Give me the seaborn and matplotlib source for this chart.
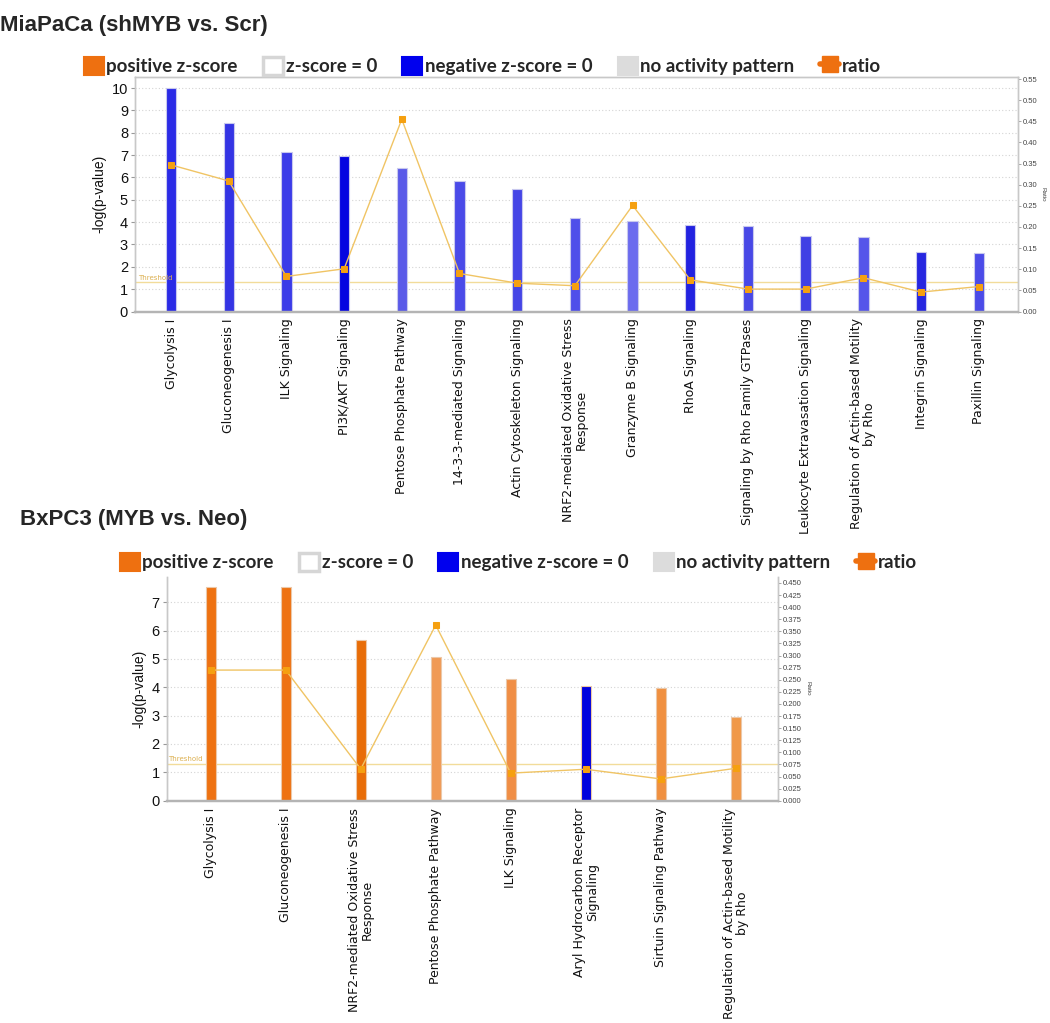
import numpy as np
import pandas as pd
import matplotlib
matplotlib.use("Agg")
import matplotlib.pyplot as plt
import seaborn as sns
from matplotlib.patches import Patch
from matplotlib.lines import Line2D
from matplotlib import font_manager
import matplotlib.transforms as mtransforms

# ---------------- data ----------------
mia_pathways = [
    "Glycolysis I", "Gluconeogenesis I", "ILK Signaling", "PI3K/AKT Signaling",
    "Pentose Phosphate Pathway", "14-3-3-mediated Signaling",
    "Actin Cytoskeleton Signaling", "NRF2-mediated Oxidative Stress\nResponse",
    "Granzyme B Signaling", "RhoA Signaling", "Signaling by Rho Family GTPases",
    "Leukocyte Extravasation Signaling",
    "Regulation of Actin-based Motility\nby Rho", "Integrin Signaling",
    "Paxillin Signaling",
]
mia_logp = [10.0, 8.46, 7.15, 6.97, 6.44, 5.84, 5.47, 4.18, 4.05, 3.89, 3.83,
            3.36, 3.33, 2.66, 2.6]
mia_ratio = [0.347, 0.309, 0.083, 0.101, 0.455, 0.090, 0.067, 0.061, 0.251,
             0.075, 0.053, 0.053, 0.080, 0.046, 0.059]
mia_colors = ["#2b2be6", "#3434e4", "#3b3be8", "#0505e0", "#5a5ae8", "#4a4ae8",
              "#4545e6", "#4f4fea", "#6b6bee", "#2222e0", "#4848e6", "#4040e4",
              "#5555ea", "#2626e0", "#4b4be8"]

bx_pathways = [
    "Glycolysis I", "Gluconeogenesis I",
    "NRF2-mediated Oxidative Stress\nResponse", "Pentose Phosphate Pathway",
    "ILK Signaling", "Aryl Hydrocarbon Receptor\nSignaling",
    "Sirtuin Signaling Pathway", "Regulation of Actin-based Motility\nby Rho",
]
bx_logp = [7.55, 7.55, 5.68, 5.08, 4.3, 4.05, 3.97, 2.96]
bx_ratio = [0.270, 0.270, 0.0655, 0.363, 0.057, 0.065, 0.045, 0.067]
bx_colors = ["#ee7212", "#ee7212", "#e86d08", "#f09a55", "#f08e45", "#0000dd",
             "#f09040", "#f09848"]

threshold = 1.3

legend_labels = ["positive z-score", "z-score = 0", "negative z-score = 0",
                 "no activity pattern", "ratio"]

# ---------------- style ----------------
sns.set_theme(style="white")
avail = {f.name for f in font_manager.fontManager.ttflist}
narrow = "Liberation Sans Narrow" if "Liberation Sans Narrow" in avail else "Liberation Sans"
plt.rcParams["font.family"] = ["Liberation Sans", "DejaVu Sans"]

W, H = 1050, 1023
fig = plt.figure(figsize=(W / 100, H / 100), dpi=100)
fig.patch.set_facecolor("white")


def px_rect(left, top, right, bottom):
    return [left / W, 1 - bottom / H, (right - left) / W, (bottom - top) / H]


def panel(rect, names, logp, ratio, colors, ymax, yticks, rmax, rticks, rfmt,
          xlim, bar_w, edge, top_spine, thr_fs):
    ax = fig.add_axes(rect)
    df = pd.DataFrame({"pathway": names, "logp": logp, "ratio": ratio})
    sns.barplot(data=df, x="pathway", y="logp", hue="pathway",
                palette=dict(zip(names, colors)), dodge=False, width=bar_w,
                saturation=1, legend=False, ax=ax, edgecolor=edge,
                linewidth=0.8, errorbar=None, zorder=2)
    ax.set_ylim(0, ymax)
    ax.set_yticks(yticks)
    ax.yaxis.grid(True, linestyle=(0, (1, 2)), color="#d4d4d4", linewidth=0.8)
    ax.set_axisbelow(True)
    ax.axhline(threshold, color="#f2dc9a", linewidth=1.0, zorder=1.5)
    trans = mtransforms.blended_transform_factory(ax.transAxes, ax.transData)
    ax.text(0.003, threshold + 0.05, "Threshold", transform=trans,
            fontsize=thr_fs, color="#dcb050", va="bottom", ha="left",
            family="DejaVu Sans")
    ax.set_ylabel("-log(p-value)", fontsize=10, color="#111", labelpad=4)
    ax.set_xlabel("")
    ax.tick_params(axis="y", left=True, length=3, width=0.8, color="#999",
                   labelsize=10.5, labelcolor="#111", pad=2)
    ax.set_xticks(range(len(names)))
    ax.set_xticklabels(names, rotation=90, ha="center", va="top",
                       multialignment="center", fontsize=9,
                       family="DejaVu Sans", color="#111", linespacing=1.0)
    ax.tick_params(axis="x", length=0, pad=5)

    ax2 = ax.twinx()
    sns.pointplot(data=df, x="pathway", y="ratio", color="#f0c464",
                  markers="s", errorbar=None, ax=ax2, markersize=4.5,
                  linewidth=1.0)
    for ln in ax2.lines:
        ln.set_markerfacecolor("#f5a010")
        ln.set_markeredgecolor("#f5a010")
    ax2.set_ylim(0, rmax)
    ax2.set_yticks(rticks)
    ax2.set_yticklabels([rfmt.format(v) for v in rticks])
    ax2.tick_params(axis="y", right=True, length=2, width=0.6, color="#999",
                    labelsize=5.5, labelcolor="#444", pad=1.5)
    ax2.set_ylabel("Ratio", rotation=270, fontsize=4.5, color="#444",
                   labelpad=6)
    ax2.set_xlabel("")
    ax.set_xlim(*xlim)

    for a in (ax, ax2):
        for s in ("left", "right", "top"):
            a.spines[s].set_color("#c8c8c8")
            a.spines[s].set_linewidth(1.0)
        a.spines["bottom"].set_color("#b4b4b4")
        a.spines["bottom"].set_linewidth(1.6)
        a.spines["top"].set_visible(top_spine)
    return ax, ax2


# ---------------- top panel ----------------
panel(px_rect(135, 77, 1018, 311.5), mia_pathways, mia_logp, mia_ratio,
      mia_colors, 10.5, list(range(0, 11)), 0.555,
      [round(0.05 * i, 2) for i in range(12)], "{:.2f}",
      (-0.624, 14.68), 0.18, "#c8c8ee", True, 5)

# ---------------- bottom panel ----------------
panel(px_rect(166.7, 576.7, 778, 800.7), bx_pathways, bx_logp, bx_ratio,
      bx_colors, 7.9, list(range(0, 8)), 0.463,
      [round(0.025 * i, 3) for i in range(19)], "{:.3f}",
      (-0.587, 7.564), 0.135, "#ecc8a8", False, 5)

# ---------------- titles ----------------
fig.text(0 / W, 1 - 25 / H, "MiaPaCa (shMYB vs. Scr)", fontsize=16,
         fontweight="bold", family=narrow, va="center", ha="left")
fig.text(20 / W, 1 - 520 / H, "BxPC3 (MYB vs. Neo)", fontsize=16,
         fontweight="bold", family=narrow, va="center", ha="left")

# ---------------- legends ----------------
def legend_handles():
    return [
        Patch(facecolor="#ee7010", edgecolor="#ee7010", linewidth=1.5),
        Patch(facecolor="white", edgecolor="#d6d6d6", linewidth=2.5),
        Patch(facecolor="#0000ee", edgecolor="#0000ee", linewidth=1.5),
        Patch(facecolor="#dcdcdc", edgecolor="#dcdcdc", linewidth=1.5),
        Line2D([0], [0], color="#ee7010", linewidth=4, marker="s",
               markersize=12),
    ]

leg_prop = {"family": "Lato", "weight": "bold", "size": 13.5}
for x0, yc in ((84, 66), (120, 562)):
    fig.legend(legend_handles(), legend_labels, loc="center left",
               bbox_to_anchor=(x0 / W, 1 - yc / H), ncol=5, frameon=False,
               prop=leg_prop, handlelength=1.05, handleheight=1.1,
               handletextpad=0.15, columnspacing=1.35, borderpad=0,
               borderaxespad=0)

fig.savefig("out.png", dpi=100)
